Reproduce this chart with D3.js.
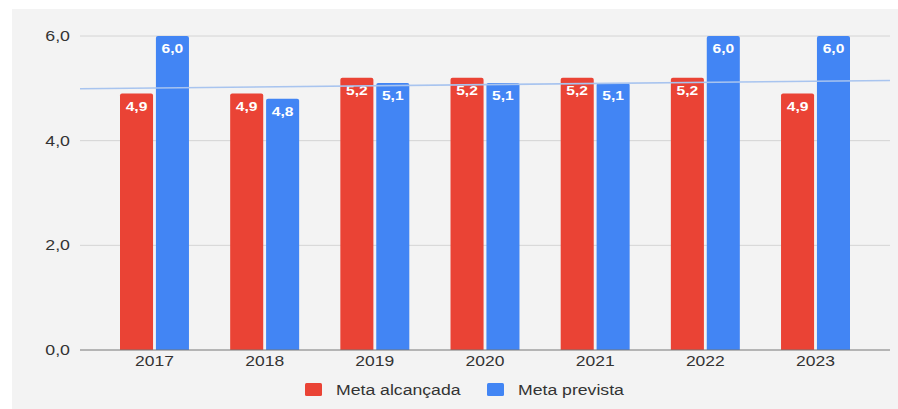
<!DOCTYPE html>
<html>
<head>
<meta charset="utf-8">
<script src="https://cdn.jsdelivr.net/npm/d3@7"></script>
<style>
  body { margin: 0; background: #fff; }
  svg { display: block; font-family: "Liberation Sans", Arial, sans-serif; }
</style>
</head>
<body>
<svg id="chart" width="898" height="409"></svg>
<script>
// dados do gráfico
var anos = ["2017", "2018", "2019", "2020", "2021", "2022", "2023"];
var metaAlcancada = [4.9, 4.9, 5.2, 5.2, 5.2, 5.2, 4.9];
var metaPrevista = [6.0, 4.8, 5.1, 5.1, 5.1, 6.0, 6.0];
var ticksY = [0, 2, 4, 6];
var series = [
  {name: "Meta alcançada", values: metaAlcancada, color: "#ea4335"},
  {name: "Meta prevista", values: metaPrevista, color: "#4285f4"}
];

var svg = d3.select("#chart");
var fmt = function (v) { return d3.format(".1f")(v).replace(".", ","); };
var FONT = "'Liberation Sans', Arial, sans-serif";

// a imagem original é um pouco esticada na horizontal
function stretch(sel, k) {
  sel.each(function () {
    var w = this.getComputedTextLength();
    d3.select(this).attr("textLength", w * k).attr("lengthAdjust", "spacingAndGlyphs");
  });
}

// fundo cinza do painel
svg.append("rect").attr("x", 12).attr("y", 9).attr("width", 886).attr("height", 400).attr("fill", "#f3f3f3");

var plotLeft = 80, plotRight = 890;
var y = d3.scaleLinear().domain([0, 6]).range([350, 36]);
var x = d3.scaleBand().domain(anos).range([120, 850]).paddingInner(0.374).paddingOuter(0);
var xs = d3.scaleBand().domain([0, 1]).range([0, x.bandwidth()]).paddingInner(0.08);

// linhas de grade
svg.append("g").selectAll("line").data(ticksY.filter(function (d) { return d > 0; })).join("line")
  .attr("x1", plotLeft).attr("x2", plotRight)
  .attr("y1", function (d) { return y(d); }).attr("y2", function (d) { return y(d); })
  .attr("stroke", "#d4d4d4").attr("stroke-width", 1);

// eixo Y
var yAxis = svg.append("g").attr("transform", "translate(" + (plotLeft - 10) + ",0)")
  .call(d3.axisLeft(y).tickValues(ticksY).tickFormat(fmt).tickSize(0).tickPadding(0));
yAxis.select(".domain").remove();
yAxis.selectAll("text").attr("font-size", 14).attr("fill", "#333").attr("font-family", FONT).call(stretch, 1.27);

// barras
var grupos = svg.append("g").selectAll("g").data(anos).join("g")
  .attr("transform", function (d) { return "translate(" + x(d) + ",0)"; });

function topRounded(x0, y0, w, h, r) {
  return "M" + x0 + "," + (y0 + h) + "V" + (y0 + r) + "Q" + x0 + "," + y0 + " " + (x0 + r) + "," + y0 +
    "H" + (x0 + w - r) + "Q" + (x0 + w) + "," + y0 + " " + (x0 + w) + "," + (y0 + r) + "V" + (y0 + h) + "Z";
}

series.forEach(function (s, si) {
  grupos.append("path")
    .attr("d", function (d, i) {
      var v = s.values[i];
      return topRounded(xs(si), y(v), xs.bandwidth(), y(0) - y(v), 2);
    })
    .attr("fill", s.color);
  grupos.append("text")
    .attr("x", xs(si) + xs.bandwidth() / 2)
    .attr("y", function (d, i) { return y(s.values[i]) + 17; })
    .attr("text-anchor", "middle")
    .attr("font-size", 13).attr("font-weight", "bold").attr("fill", "#fff").attr("font-family", FONT)
    .text(function (d, i) { return fmt(s.values[i]); })
    .call(stretch, 1.2);
});

// linha de tendência (regressão linear da meta alcançada)
var n = metaAlcancada.length;
var mx = d3.mean(d3.range(n)), my = d3.mean(metaAlcancada);
var slope = d3.sum(d3.range(n), function (i) { return (i - mx) * (metaAlcancada[i] - my); }) /
  d3.sum(d3.range(n), function (i) { return (i - mx) * (i - mx); });
var idx = d3.scaleLinear().domain([0, n - 1])
  .range([x(anos[0]) + x.bandwidth() / 2, x(anos[n - 1]) + x.bandwidth() / 2]);
var trend = function (px) { var t = idx.invert(px); return my + slope * (t - mx); };
svg.append("line")
  .attr("x1", plotLeft).attr("y1", y(trend(plotLeft)))
  .attr("x2", plotRight).attr("y2", y(trend(plotRight)))
  .attr("stroke", "#a8c4ef").attr("stroke-width", 1.6);

// eixo X
var xAxis = svg.append("g").attr("transform", "translate(0," + y(0) + ")")
  .call(d3.axisBottom(x).tickSize(0).tickPadding(6));
xAxis.select(".domain").remove();
xAxis.selectAll("text").attr("font-size", 14).attr("fill", "#333").attr("font-family", FONT).call(stretch, 1.25);
svg.append("line").attr("x1", plotLeft).attr("x2", plotRight).attr("y1", y(0)).attr("y2", y(0))
  .attr("stroke", "#777").attr("stroke-width", 1);

// legenda
var legX = [305, 487];
var leg = svg.append("g").selectAll("g").data(series).join("g")
  .attr("transform", function (d, i) { return "translate(" + legX[i] + ",383)"; });
leg.append("rect").attr("width", 17).attr("height", 13).attr("rx", 1.5).attr("fill", function (d) { return d.color; });
leg.append("text").attr("x", 31).attr("y", 11.5).attr("font-size", 14).attr("fill", "#333").attr("font-family", FONT)
  .text(function (d) { return d.name; })
  .call(stretch, 1.26);
</script>
</body>
</html>
